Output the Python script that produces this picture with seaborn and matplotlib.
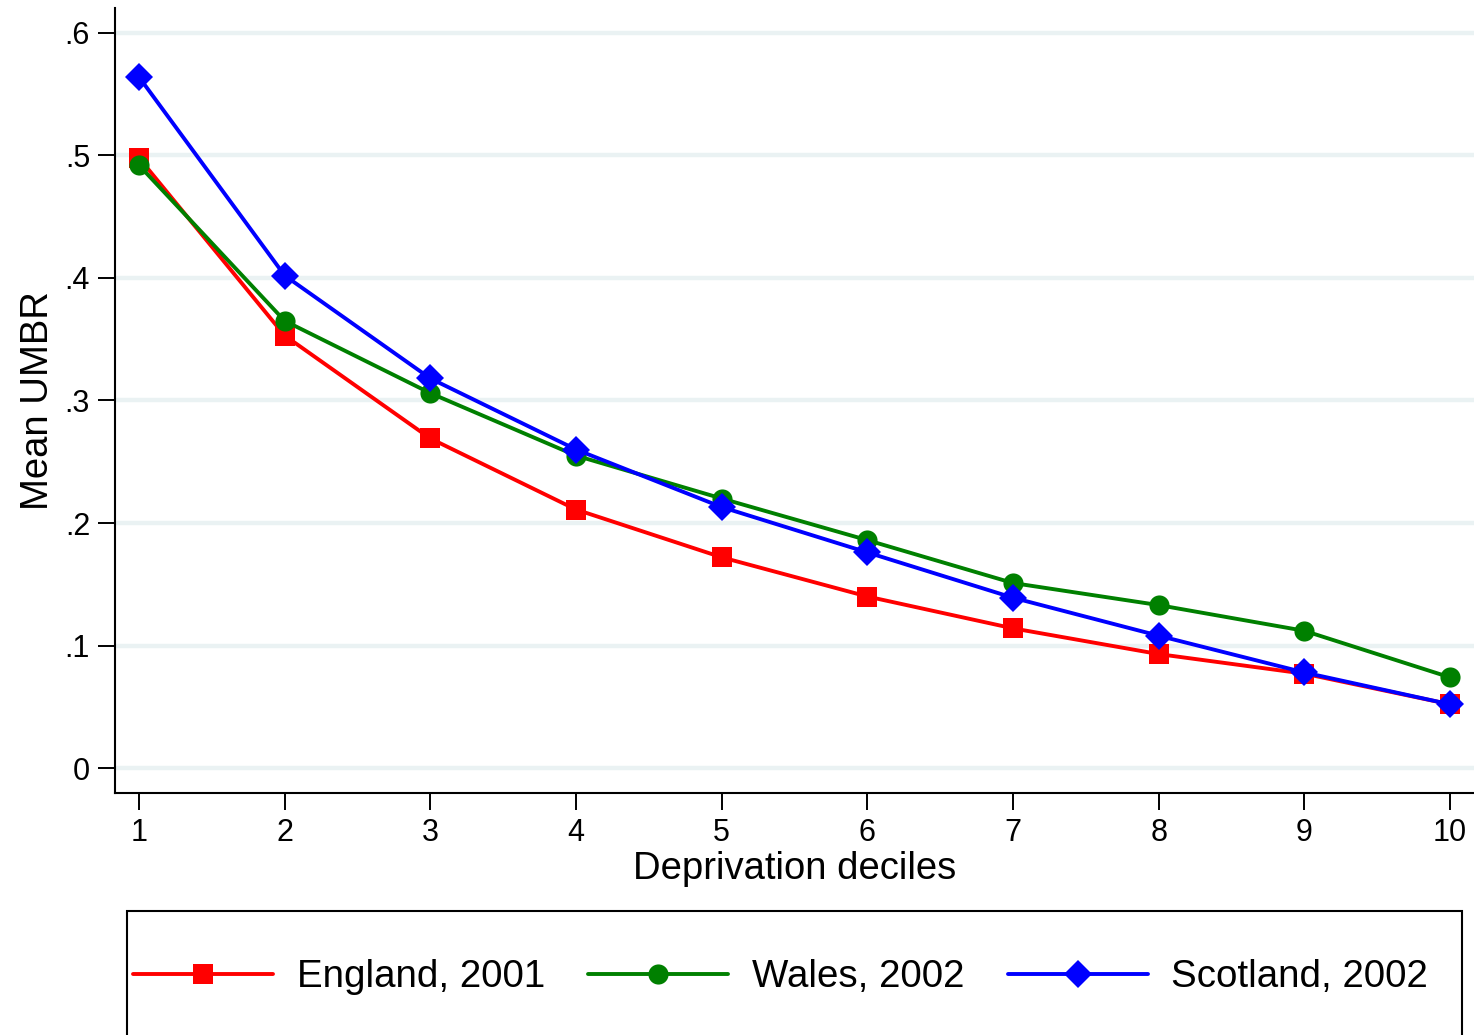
import numpy as np
import pandas as pd
import matplotlib
matplotlib.use("Agg")
import matplotlib.pyplot as plt
from matplotlib.lines import Line2D
from matplotlib.patches import Rectangle
import seaborn as sns

# Mean UMBR by deprivation decile
deciles = [1, 2, 3, 4, 5, 6, 7, 8, 9, 10]
england_2001 = [0.498, 0.353, 0.269, 0.211, 0.172, 0.140, 0.114, 0.093, 0.077, 0.052]
wales_2002 = [0.492, 0.365, 0.306, 0.255, 0.220, 0.186, 0.151, 0.133, 0.112, 0.074]
scotland_2002 = [0.564, 0.402, 0.318, 0.260, 0.213, 0.176, 0.139, 0.108, 0.078, 0.052]

series_names = ["England, 2001", "Wales, 2002", "Scotland, 2002"]
series_colors = ["#FF0000", "#008000", "#0000FF"]
series_markers = ["s", "o", "D"]
series_msize = [14.5, 14.5, 14]

y_ticks = [0, 0.1, 0.2, 0.3, 0.4, 0.5, 0.6]
y_ticklabels = ["0", ".1", ".2", ".3", ".4", ".5", ".6"]

df = pd.DataFrame({
    "decile": deciles * 3,
    "umbr": england_2001 + wales_2002 + scotland_2002,
    "series": [n for n in series_names for _ in deciles],
})

sns.set_theme(style="white")
plt.rcParams["font.family"] = ["Liberation Sans", "DejaVu Sans"]

W, H = 1474, 1035
fig = plt.figure(figsize=(W / 100, H / 100), dpi=100)
ax = fig.add_axes([115 / W, 1 - 793 / H, 1 - 115 / W, (793 - 8) / H])

for name, col, mk, ms in zip(series_names, series_colors, series_markers, series_msize):
    sub = df[df["series"] == name]
    sns.lineplot(data=sub, x="decile", y="umbr", ax=ax, color=col, marker=mk,
                 markersize=ms, markeredgewidth=0, linewidth=2.8, legend=False,
                 zorder=3)

ax.set_xlim(0.835, 10.165)
ax.set_ylim(-0.0204, 0.6204)
ax.set_xticks(deciles)
ax.set_xticklabels([str(d) for d in deciles])
ax.set_yticks(y_ticks)
ax.set_yticklabels(y_ticklabels)
ax.yaxis.grid(True, color="#EAF2F3", linewidth=3.2, zorder=0)
ax.xaxis.grid(False)
ax.set_axisbelow(True)

for side in ["top", "right"]:
    ax.spines[side].set_visible(False)
for side in ["left", "bottom"]:
    ax.spines[side].set_color("#000000")
    ax.spines[side].set_linewidth(1.5)

ax.tick_params(axis="both", which="major", direction="out", length=12, width=1.4,
               color="#000000", labelsize=22, pad=6, labelcolor="#000000",
               left=True, bottom=True)

ax.set_xlabel("Deprivation deciles", fontsize=27.5, color="#000000", labelpad=2)
ax.set_ylabel("Mean UMBR", fontsize=27.5, color="#000000", labelpad=6)

# Legend frame, running off the bottom edge of the figure
fig.patches.append(Rectangle((127 / W, -0.05), (1462 - 127) / W, 0.05 + (1 - 911 / H),
                             transform=fig.transFigure, fill=False,
                             edgecolor="#000000", linewidth=1.5))

handles = [Line2D([0], [0], color=c, marker=m, markersize=ms, markeredgewidth=0,
                  linewidth=2.8)
           for c, m, ms in zip(series_colors, series_markers, series_msize)]
leg = fig.legend(handles, series_names, loc="center left",
                 bbox_to_anchor=(133 / W, 1 - 977 / H),
                 ncol=3, fontsize=27.7, frameon=False,
                 handlelength=3.64, handletextpad=0.62, borderpad=0,
                 borderaxespad=0, columnspacing=1.12)
for t in leg.get_texts():
    t.set_color("#000000")

fig.savefig("out.png", dpi=100)
